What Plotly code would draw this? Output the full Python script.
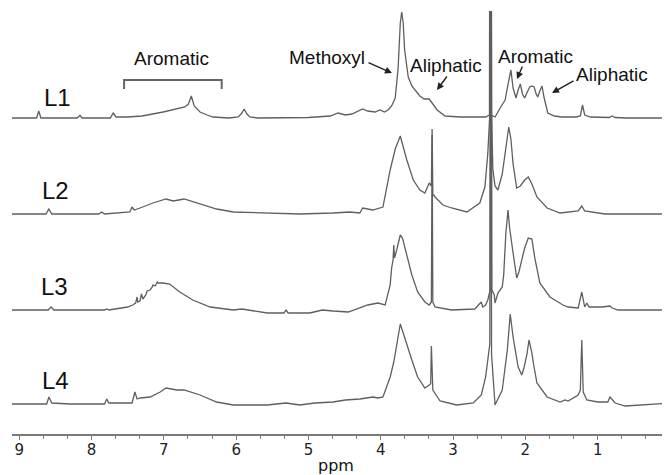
import plotly.graph_objects as go

# ---------------- data (ppm, intensity) ----------------
L1_ppm = [9.10, 8.76, 8.73, 8.70, 8.20, 8.16, 8.13, 7.74, 7.70, 7.66, 7.50, 7.30, 7.01, 6.80, 6.71, 6.66, 6.62,
          6.58, 6.50, 6.40, 6.32, 6.10, 5.97, 5.92, 5.89, 5.85, 5.81, 5.70, 5.00, 4.70, 4.66, 4.59, 4.49, 4.40,
          4.25, 4.18, 4.08, 4.01, 3.95, 3.90, 3.85, 3.80, 3.76, 3.73, 3.71, 3.69, 3.67, 3.62, 3.57, 3.53, 3.46,
          3.40, 3.33, 3.28, 3.22, 3.11, 2.90, 2.70, 2.55, 2.497, 2.485, 2.473, 2.42, 2.34, 2.28, 2.25, 2.20, 2.17,
          2.13, 2.10, 2.07, 2.04, 2.01, 1.98, 1.94, 1.91, 1.88, 1.85, 1.83, 1.80, 1.77, 1.74, 1.69, 1.60, 1.50,
          1.30, 1.24, 1.21, 1.18, 1.10, 0.84, 0.80, 0.76, 0.60, 0.00]
L1_int = [0, 0, 7, 0, 0, 2.5, 0, 0, 5, 1, 1, 2, 6, 9, 11, 14, 22,
          12, 6, 3, 1, 0, 1, 5, 9, 4, 1, 0, 0.5, 2, 3, 5, 3, 4,
          9, 7, 6, 8, 6, 8, 12, 20, 50, 95, 106, 95, 68, 41, 32, 28, 22,
          19, 19, 14, 8, 2, 1, 1, 1, 3, 600, 3, 1, 11, 18, 30, 48, 30,
          20, 28, 34, 24, 20, 25, 31, 32, 31, 24, 21, 27, 32, 20, 5, 2, 1,
          1, 2, 13, 3, 1, 0.5, 2, 0.5, 0, 0]

L2_ppm = [9.10, 8.63, 8.59, 8.55, 7.90, 7.86, 7.82, 7.54, 7.47, 7.44, 7.41, 7.33, 7.15, 6.97, 6.87, 6.72, 6.50,
          6.27, 6.04, 5.57, 5.12, 4.66, 4.43, 4.29, 4.25, 4.11, 3.97, 3.87, 3.80, 3.73, 3.64, 3.55, 3.46, 3.39,
          3.33, 3.30, 3.29, 3.28, 3.25, 3.14, 3.02, 2.81, 2.63, 2.56, 2.52, 2.492, 2.480, 2.468, 2.45, 2.42, 2.38,
          2.32, 2.28, 2.25, 2.23, 2.20, 2.17, 2.12, 2.07, 2.01, 1.96, 1.91, 1.84, 1.70, 1.52, 1.27, 1.22, 1.18,
          0.90, 0.00]
L2_int = [0, 0, 5, 0, 0, 2, 0, 2, 2, 7, 4, 6, 11, 15, 13, 15, 10,
          5, 2, 1, 0, 1, 2, 1, 6, 4, 7, 44, 65, 78, 54, 34, 24, 21,
          31, 28, 85, 20, 17, 9, 6, 2, 11, 27, 60, 100, 600, 100, 45, 28, 24,
          40, 60, 80, 87, 75, 50, 26, 28, 34, 37, 30, 17, 6, 1, 3, 8, 3,
          0, 0]

L3_ppm = [9.10, 8.60, 8.56, 8.52, 7.82, 7.79, 7.76, 7.58, 7.50, 7.43, 7.39, 7.37, 7.36, 7.33, 7.31, 7.29, 7.25,
          7.23, 7.19, 7.16, 7.15, 7.12, 7.09, 7.08, 7.05, 7.01, 6.92, 6.78, 6.60, 6.36, 6.04, 5.92, 5.57, 5.34,
          5.31, 5.28, 4.98, 4.81, 4.66, 4.45, 4.18, 4.04, 3.94, 3.87, 3.85, 3.83, 3.82, 3.81, 3.78, 3.73, 3.70,
          3.64, 3.57, 3.49, 3.39, 3.33, 3.30, 3.29, 3.28, 3.25, 3.02, 2.70, 2.61, 2.59, 2.55, 2.52, 2.487, 2.475,
          2.463, 2.43, 2.42, 2.38, 2.32, 2.30, 2.27, 2.24, 2.22, 2.17, 2.12, 2.09, 2.05, 2.01, 1.96, 1.91, 1.87,
          1.84, 1.80, 1.66, 1.48, 1.41, 1.27, 1.22, 1.18, 1.15, 1.12, 1.04, 0.94, 0.83, 0.80, 0.72, 0.00]
L3_int = [0, 0, 3, 0, 0, 1, 0, 2, 3, 5, 7, 13, 8, 9, 16, 11, 15,
          19, 20, 23, 25, 24, 28, 27, 27, 27, 26, 18, 10, 3, 0, 1, -3, -3,
          0, -3, -3, 0, -1, -2, 5, 7, 5, 25, 42, 50, 65, 52, 60, 75, 72,
          55, 35, 18, 8, 5, 8, 175, 8, 3, 0, 1, 8, 3, 5, 10, 20, 600,
          20, 15, 7, 17, 23, 35, 77, 100, 83, 57, 32, 38, 50, 62, 72, 71, 52,
          40, 27, 13, 5, 3, 2, 18, 3, 7, 3, 3, 3, 4, 2, 0, 0]

L4_ppm = [9.10, 8.62, 8.59, 8.55, 8.30, 7.82, 7.79, 7.76, 7.44, 7.40, 7.37, 7.33, 7.19, 7.05, 6.97, 6.82, 6.72,
          6.50, 6.27, 6.04, 5.57, 5.31, 5.12, 4.91, 4.66, 4.49, 4.29, 4.11, 4.04, 3.97, 3.87, 3.82, 3.73, 3.64,
          3.57, 3.49, 3.39, 3.31, 3.30, 3.28, 3.18, 2.95, 2.72, 2.61, 2.55, 2.492, 2.480, 2.468, 2.43, 2.42, 2.32,
          2.25, 2.21, 2.17, 2.10, 2.05, 2.02, 1.98, 1.95, 1.91, 1.89, 1.84, 1.70, 1.52, 1.45, 1.41, 1.27, 1.24,
          1.22, 1.20, 1.15, 1.00, 0.86, 0.83, 0.76, 0.62, 0.00]
L4_int = [0, 0, 7, 1, 0, 0, 5, 1, 1, 12, 5, 6, 7, 12, 16, 14, 14,
          9, 2, -1, -1, 1, -1, 1, 2, 4, 5, 7, 6, 7, 27, 42, 80, 61,
          44, 27, 16, 20, 58, 14, 3, -1, 1, 9, 27, 60, 600, 50, 11, -1, 14,
          54, 90, 67, 37, 29, 36, 49, 64, 51, 41, 21, 7, 2, 4, 3, 9, 14,
          64, 12, 4, 2, 2, 7, 1, -2, 1]

sample_labels = ["L1", "L2", "L3", "L4"]
x_ticks = [9, 8, 7, 6, 5, 4, 3, 2, 1, 0]
bracket_ppm = [7.55, 6.20]

# ---------------- layout helpers ----------------
# The page adds an 8 px body margin, so the figure is laid out 8 px smaller / shifted.
OFF = 8
W, H = 670 - OFF, 475 - OFF
REF_LEFT, REF_RIGHT, REF_TOP, REF_BOTTOM = 12, 670, 11, 434   # plot area in page pixels
ML, MR = REF_LEFT - OFF, 0
MT, MB = REF_TOP - OFF, H - (REF_BOTTOM - OFF)
PW, PH = REF_RIGHT - REF_LEFT, REF_BOTTOM - REF_TOP
baselines_px = [118, 214, 310, 404]  # vertical placement of each trace (page pixels)


def px_x(px):
    return (px - REF_LEFT) / PW


def px_y(py):
    return (REF_BOTTOM - py) / PH


LINE = "#5f5f5f"
spectra = [(L1_ppm, L1_int), (L2_ppm, L2_int), (L3_ppm, L3_int), (L4_ppm, L4_int)]
axis_names = ["y4", "y3", "y2", "y"]

fig = go.Figure()
for (xs, ys), name, ax in zip(spectra, sample_labels, axis_names):
    fig.add_trace(go.Scatter(x=xs, y=ys, mode="lines", name=name, yaxis=ax,
                             line=dict(color=LINE, width=1.3), hoverinfo="skip"))

layout_axes = {}
for b, ax in zip(baselines_px, axis_names):
    key = "yaxis" if ax == "y" else "yaxis" + ax[1:]
    d = dict(range=[b - REF_BOTTOM, b - REF_TOP], visible=False, showgrid=False, zeroline=False,
             fixedrange=True, automargin=False)
    if ax != "y":
        d["overlaying"] = "y"
    layout_axes[key] = d

fig.update_layout(
    template="none",
    width=W, height=H,
    margin=dict(l=ML, r=MR, t=MT, b=MB, pad=0, autoexpand=False),
    paper_bgcolor="white", plot_bgcolor="white",
    showlegend=False,
    xaxis=dict(range=[9.1, 0], tickvals=x_ticks, ticktext=[str(t) for t in x_ticks],
               automargin=False,
               showline=True, linecolor="#7a7a7a", linewidth=1.5, ticks="outside", ticklen=4,
               tickcolor="#7a7a7a", tickwidth=1.2, showgrid=False, zeroline=False, mirror=False,
               ticklabelstandoff=-3,
               tickfont=dict(family="DejaVu Sans", size=15, color="#222"),
               minor=dict(dtick=1 / 3, tick0=0, ticks="outside", ticklen=3, tickcolor="#7a7a7a",
                          showgrid=False)),
    **layout_axes,
)


def note(text, px, py, size, family="Liberation Sans"):
    fig.add_annotation(text=text, x=px_x(px), y=px_y(py), xref="paper", yref="paper",
                       xanchor="center", yanchor="middle", showarrow=False,
                       font=dict(family=family, size=size, color="#111"))


# axis title
note("ppm", 336, 465, 16, "DejaVu Sans")

# sample labels
label_pos = [(57, 98), (55, 191), (54, 286), (55, 380)]
for txt, (px, py) in zip(sample_labels, label_pos):
    note(txt, px, py, 24)

# region labels
texts = [("Aromatic", 171, 58), ("Methoxyl", 327, 57), ("Aliphatic", 446, 66),
         ("Aromatic", 535, 56), ("Aliphatic", 612, 74)]
for txt, px, py in texts:
    note(txt, px, py, 19)

# arrows (tail -> head), page pixels
arrows = [((367, 62), (392, 73)), ((448, 75), (437, 90)), ((523, 65), (517, 79)), ((575, 80), (552, 93))]
for (tx, ty), (hx, hy) in arrows:
    fig.add_annotation(text="", x=px_x(hx), y=px_y(hy), xref="paper", yref="paper",
                       ax=tx - hx, ay=ty - hy, showarrow=True, arrowhead=2, arrowsize=1,
                       arrowwidth=1.4, arrowcolor="#222")

# bracket over aromatic region
fig.add_trace(go.Scatter(x=[bracket_ppm[0], bracket_ppm[0], bracket_ppm[1], bracket_ppm[1]],
                         y=[118 - 89, 118 - 80, 118 - 80, 118 - 89], yaxis="y4", mode="lines",
                         line=dict(color="#666", width=2), hoverinfo="skip"))

fig.write_html("out.html")
